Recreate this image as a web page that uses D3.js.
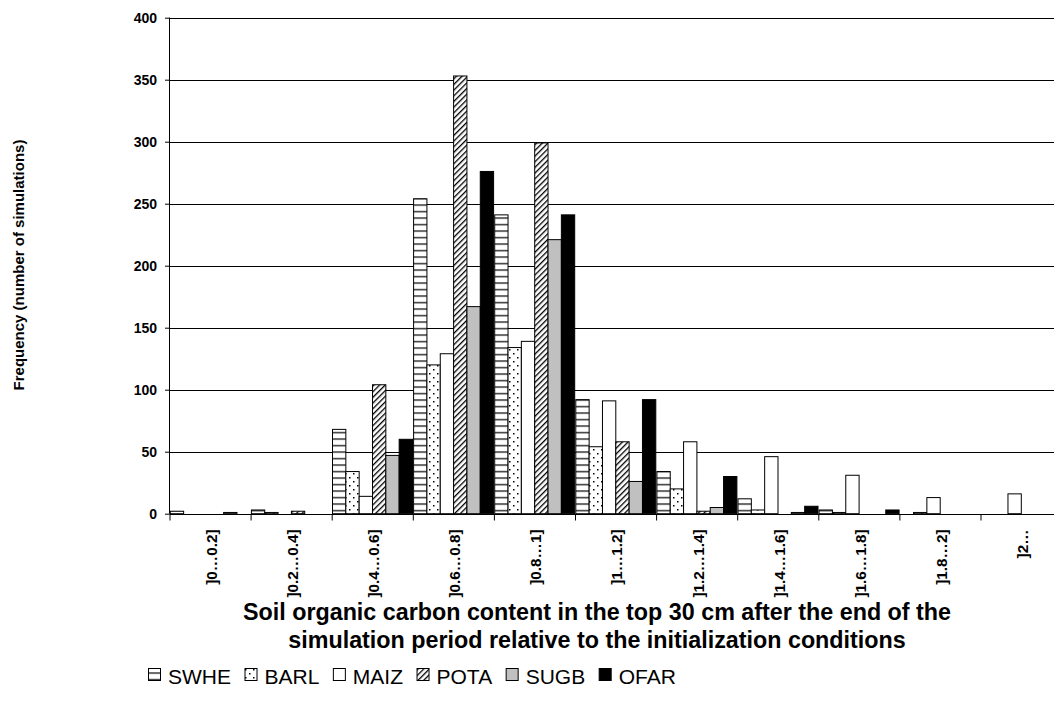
<!DOCTYPE html>
<html>
<head>
<meta charset="utf-8">
<script src="https://cdn.jsdelivr.net/npm/d3@7"></script>
<style>
  html, body { margin: 0; padding: 0; background: #fff; }
  svg { display: block; font-family: "Liberation Sans", Arial, sans-serif; }
</style>
</head>
<body>
<svg id="chart" width="1054" height="713"></svg>
<script>
const categories = ["]0\u20260.2]", "]0.2\u20260.4]", "]0.4\u20260.6]", "]0.6\u20260.8]", "]0.8\u20261]", "]1\u20261.2]", "]1.2\u20261.4]", "]1.4\u20261.6]", "]1.6\u20261.8]", "]1.8\u20262]", "]2\u2026"];
const seriesNames = ["SWHE", "BARL", "MAIZ", "POTA", "SUGB", "OFAR"];
const SWHE = [2, 3, 68, 254, 241, 92, 34, 12, 3, 0, 0];
const BARL = [0, 1, 34, 120, 134, 54, 20, 3, 1, 1, 0];
const MAIZ = [0, 0, 14, 129, 139, 91, 58, 46, 31, 13, 16];
const POTA = [0, 2, 104, 353, 299, 58, 2, 0, 0, 0, 0];
const SUGB = [1, 0, 47, 167, 221, 26, 5, 1, 0, 0, 0];
const OFAR = [0, 0, 60, 276, 241, 92, 30, 6, 3, 0, 0];
const yTicks = [0, 50, 100, 150, 200, 250, 300, 350, 400];
const yTitle = "Frequency (number of simulations)";
const xTitle = ["Soil organic carbon content in the top 30 cm after the end of the", "simulation period relative to the initialization conditions"];

const seriesValues = { SWHE, BARL, MAIZ, POTA, SUGB, OFAR };

const svg = d3.select("#chart");
const defs = svg.append("defs");

// Patterns
const pH = defs.append("pattern").attr("id", "p-SWHE").attr("patternUnits", "userSpaceOnUse")
  .attr("width", 8).attr("height", 6.5);
pH.append("rect").attr("width", 8).attr("height", 6.5).attr("fill", "#fff");
pH.append("rect").attr("x", 0).attr("y", 3).attr("width", 8).attr("height", 1.2).attr("fill", "#000");

const pD = defs.append("pattern").attr("id", "p-BARL").attr("patternUnits", "userSpaceOnUse")
  .attr("width", 8).attr("height", 8);
pD.append("rect").attr("width", 8).attr("height", 8).attr("fill", "#fff");
pD.append("rect").attr("x", 1).attr("y", 1).attr("width", 1.5).attr("height", 1.5).attr("fill", "#000");
pD.append("rect").attr("x", 5).attr("y", 5).attr("width", 1.5).attr("height", 1.5).attr("fill", "#000");

const pP = defs.append("pattern").attr("id", "p-POTA").attr("patternUnits", "userSpaceOnUse")
  .attr("width", 4).attr("height", 4).attr("patternTransform", "rotate(45)");
pP.append("rect").attr("width", 4).attr("height", 4).attr("fill", "#fff");
pP.append("rect").attr("x", 0).attr("y", 0).attr("width", 1.3).attr("height", 4).attr("fill", "#000");

const fills = { SWHE: "url(#p-SWHE)", BARL: "url(#p-BARL)", MAIZ: "#ffffff", POTA: "url(#p-POTA)", SUGB: "#c0c0c0", OFAR: "#000000" };

// Scales
const left = 170, groupW = 81.1;
const x0 = d3.scaleBand().domain(categories).range([left, left + groupW * categories.length]).padding(0);
const x1 = d3.scaleBand().domain(seriesNames).range([0.3, x0.bandwidth() - 0.8]).padding(0);
const y = d3.scaleLinear().domain([0, 400]).range([513.7, 17.7]);

// Gridlines
svg.append("g").selectAll("line").data(yTicks.filter(d => d > 0)).join("line")
  .attr("x1", left).attr("x2", 1054)
  .attr("y1", d => Math.round(y(d)) + 0.5).attr("y2", d => Math.round(y(d)) + 0.5)
  .attr("stroke", "#000").attr("stroke-width", 1);

// Bars
const g = svg.append("g");
categories.forEach((c, i) => {
  seriesNames.forEach(s => {
    const v = seriesValues[s][i];
    if (v <= 0) return;
    g.append("rect")
      .attr("x", x0(c) + x1(s))
      .attr("y", y(v))
      .attr("width", x1.bandwidth())
      .attr("height", y(0) - y(v))
      .attr("fill", fills[s])
      .attr("stroke", "#000")
      .attr("stroke-width", 1);
  });
});

// Y axis
const yAxis = d3.axisLeft(y).tickValues(yTicks).tickSize(5).tickPadding(8);
const yg = svg.append("g").attr("transform", `translate(${left},0)`).call(yAxis);
yg.select(".domain").attr("stroke", "#000").attr("d", `M-0.5,${y(400)}V${y(0)}`);
yg.selectAll(".tick line").attr("stroke", "#000");
yg.selectAll(".tick text").attr("font-family", "Liberation Sans, Arial, sans-serif")
  .attr("font-size", 14).attr("font-weight", "bold").attr("fill", "#000");

// X axis
const xAxis = d3.axisBottom(x0).tickSize(0).tickFormat("");
const xg = svg.append("g").attr("transform", `translate(0,${Math.round(y(0)) + 0.5})`).call(xAxis);
xg.select(".domain").attr("stroke", "#000").attr("d", `M${left},0H1054`);
xg.selectAll(".bound").data(categories).join("line").attr("class", "bound")
  .attr("x1", d => x0(d)).attr("x2", d => x0(d)).attr("y1", 0).attr("y2", 6)
  .attr("stroke", "#000");
xg.selectAll(".clabel").data(categories).join("text").attr("class", "clabel")
  .attr("transform", d => `translate(${x0(d) + x0.bandwidth() / 2 + 1},15) rotate(-90)`)
  .attr("text-anchor", "end").attr("dy", "0.35em")
  .attr("font-size", 15.3).attr("font-weight", "bold").attr("fill", "#000")
  .text(d => d);

// Y title
svg.append("text")
  .attr("transform", `translate(24,265) rotate(-90)`)
  .attr("text-anchor", "middle").attr("font-size", 15).attr("font-weight", "bold")
  .text(yTitle);

// X title
svg.append("text").attr("text-anchor", "middle").attr("font-size", 23.3).attr("font-weight", "bold")
  .selectAll("tspan").data(xTitle).join("tspan")
  .attr("x", 597).attr("y", (d, i) => 620 + i * 28).text(d => d);

// Legend (laid out from text widths)
const lg = svg.append("g");
let lx = 148;
seriesNames.forEach((s, i) => {
  lg.append("rect").attr("x", lx + 0.5).attr("y", 668.5).attr("width", 12).attr("height", 12)
    .attr("fill", fills[s]).attr("stroke", "#000");
  const t = lg.append("text").attr("x", lx + 20).attr("y", 683.5).attr("font-size", 21).text(s);
  lx += 20 + t.node().getComputedTextLength() + 13.5;
});
</script>
</body>
</html>
